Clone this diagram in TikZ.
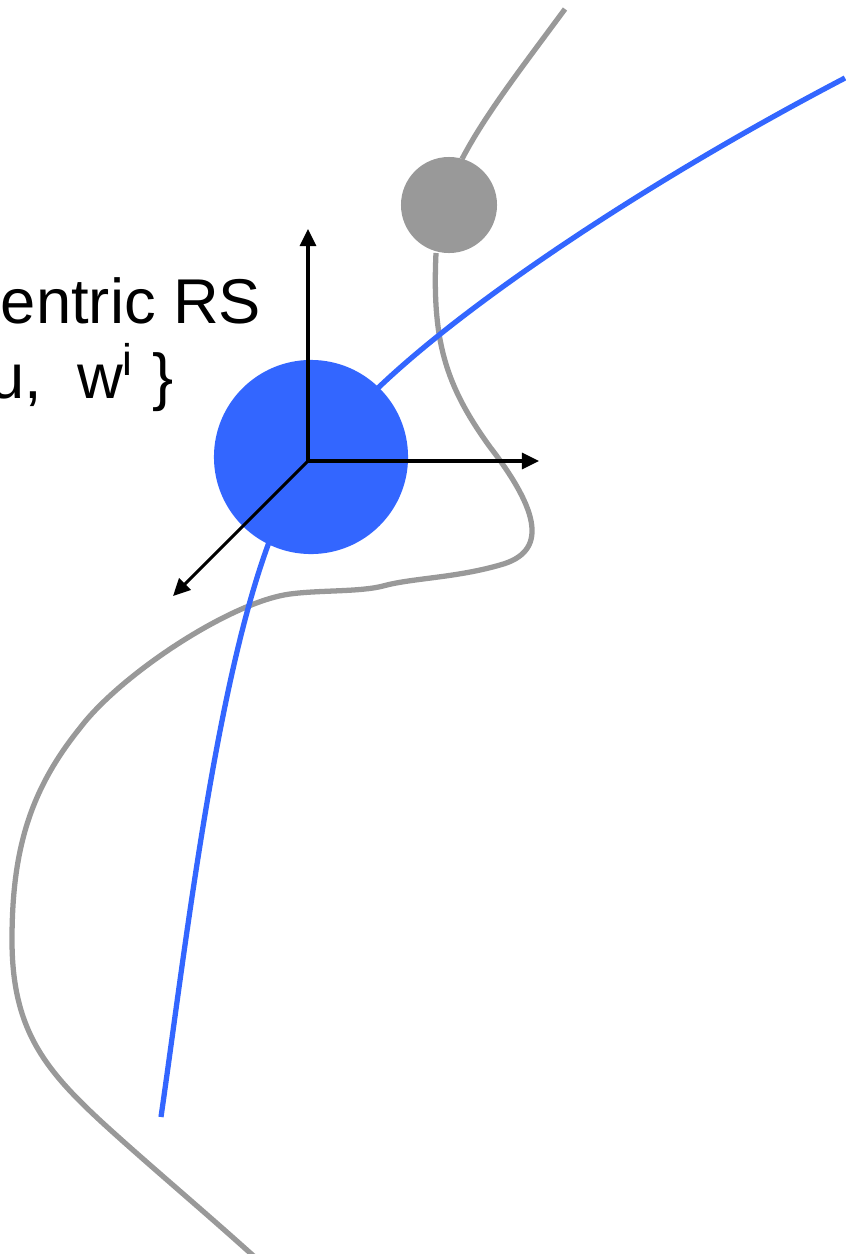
\documentclass[tikz,border=0pt]{standalone}
\usepackage{fontspec}
\setmainfont{Liberation Sans}
\usetikzlibrary{arrows.meta}
\definecolor{bodyblue}{HTML}{3366FF}
\definecolor{pathgray}{HTML}{999999}

\begin{document}
\begin{tikzpicture}[x=0.01cm,y=-0.01cm,
  body/.style={circle,fill=bodyblue,minimum size=19.4mm,inner sep=0pt},
  other/.style={circle,fill=pathgray,minimum size=9.6mm,inner sep=0pt},
  track/.style={line width=1.5pt,line cap=butt},
  axis/.style={-{Triangle[length=1.7mm,width=1.6mm]},line width=0.9pt,black},
  lbl/.style={anchor=base east,inner sep=0pt,font=\fontsize{18}{21}\selectfont}
]
\useasboundingbox (0,0) rectangle (845,1254);

% ---- GRAY TRACK ----
\draw[track,pathgray] (565,9) .. controls (520,70) and (485,115) .. (462,159);
\draw[track,pathgray] (436,253) .. controls (432,340) and (445,385) .. (490,447)
  .. controls (540,512) and (548,552) .. (500,565)
  .. controls (455,578) and (412,578) .. (383,586)
  .. controls (360,592) and (320,590) .. (290,594)
  .. controls (230,602) and (120,675) .. (80,728)
  .. controls (30,790) and (12,850) .. (12,940)
  .. controls (12,1030) and (45,1070) .. (105,1125)
  .. controls (150,1166) and (205,1212) .. (258,1260);

% ---- BLUE TRACK ----
\draw[track,bodyblue] (845,78) .. controls (650,180) and (470,300) .. (378,388)
  .. controls (320,445) and (285,495) .. (268,545)
  .. controls (215,690) and (185,950) .. (161,1117);

% ---- BODIES ----
\node[other] (gball) at (449,205) {};
\node[body]  (bball) at (311,457) {};

% ---- AXES ----
\coordinate (o)    at (308,461);
\coordinate (xend) at (539,461);
\coordinate (yend) at (308,229);
\coordinate (zend) at (173,596);
\draw[axis] (o) -- (xend);
\draw[axis] (o) -- (yend);
\draw[axis] (o) -- (zend);

% ---- LABEL ----
\node[lbl] (rsname) at (262,323) {entric RS};
\node[lbl] (rsset)  at (174,398) {u,\ \ w\textsuperscript{i} \}};

\end{tikzpicture}
\end{document}
